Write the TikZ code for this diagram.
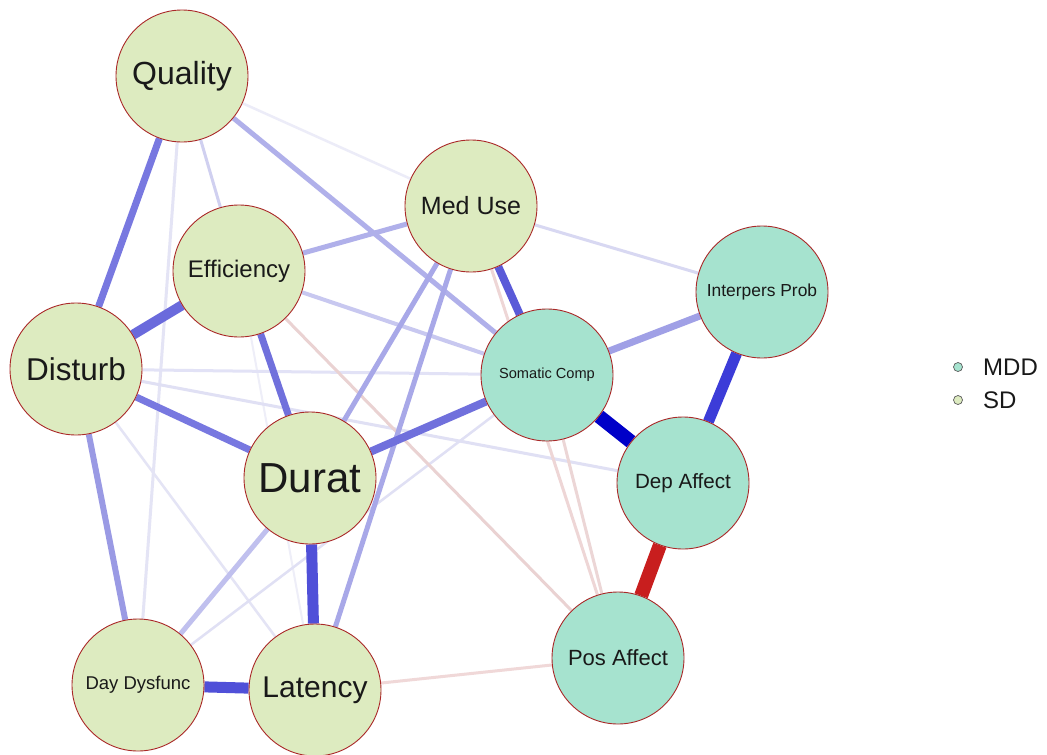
\documentclass[tikz,border=0pt]{standalone}
\usepackage{fontspec}
\setmainfont{Liberation Sans}
\usetikzlibrary{backgrounds}

\definecolor{sdfill}{RGB}{221,235,192}
\definecolor{mddfill}{RGB}{166,227,207}
\definecolor{rim}{RGB}{170,40,40}
\definecolor{labeltext}{RGB}{25,25,25}

\begin{document}
\begin{tikzpicture}[x=1pt,y=-1pt,
  vert/.style={circle, draw=rim, line width=0.9pt, minimum size=132pt,
               inner sep=0pt, text=labeltext},
  sd/.style={vert, fill=sdfill},
  mdd/.style={vert, fill=mddfill},
  fs/.style={font=\fontsize{#1}{#1}\selectfont},
  link/.style args={#1/#2}{draw={rgb,255:#1}, line width=#2pt},
  key/.style={circle, draw={rgb,255:red,90;green,90;blue,90}, line width=0.7pt,
              minimum size=9pt, inner sep=0pt},
  keytext/.style={anchor=west, inner sep=0pt, text=labeltext, fs=24}
]
\useasboundingbox (0,0) rectangle (1047,755);

% vertices: sleep items (SD) and depression items (MDD)
\node[sd, fs=32]  (qual) at (182,76)  {Quality};
\node[sd, fs=25]  (med)  at (471,206) {Med Use};
\node[sd, fs=24]  (eff)  at (239,271) {Efficiency};
\node[mdd, fs=17.4] (ipp) at (762,292) {Interpers Prob};
\node[sd, fs=31.5] (dis) at (76,369)  {Disturb};
\node[mdd, fs=14.6] (som) at (547,375) {Somatic Comp};
\node[sd, fs=42]  (dur)  at (310,478) {Durat};
\node[mdd, fs=20.6] (dep) at (683,483) {Dep Affect};
\node[sd, fs=18.5] (day) at (138,685) {Day Dysfunc};
\node[sd, fs=30]  (lat)  at (315,690) {Latency};
\node[mdd, fs=22] (pos)  at (618,658) {Pos Affect};

% edges, weakest first so the strong ones sit on top
\begin{scope}[on background layer]
  \fill[white] (0,0) rectangle (1047,755);
  % faint positive
  \draw[link={red,238;green,238;blue,248}/2]   (eff) -- (lat);
  \draw[link={red,236;green,236;blue,248}/2.5] (qual) -- (med);
  \draw[link={red,228;green,228;blue,245}/2.5] (dis) -- (lat);
  \draw[link={red,228;green,228;blue,245}/3]   (qual) -- (day);
  \draw[link={red,226;green,226;blue,246}/3]   (dis) -- (som);
  \draw[link={red,224;green,224;blue,244}/3]   (dis) -- (dep);
  \draw[link={red,224;green,224;blue,244}/2.5] (day) -- (som);
  \draw[link={red,216;green,216;blue,242}/3]   (med) -- (ipp);
  \draw[link={red,208;green,208;blue,240}/3]   (qual) -- (eff);
  % faint negative
  \draw[link={red,240;green,216;blue,216}/3]   (lat) -- (pos);
  \draw[link={red,234;green,210;blue,210}/3]   (eff) -- (pos);
  \draw[link={red,236;green,214;blue,214}/3]   (som) -- (pos);
  \draw[link={red,238;green,214;blue,214}/3]   (med) -- (pos);
  % moderate positive
  \draw[link={red,200;green,200;blue,240}/4]   (eff) -- (som);
  \draw[link={red,192;green,192;blue,238}/5]   (dur) -- (day);
  \draw[link={red,176;green,176;blue,234}/5]   (qual) -- (som);
  \draw[link={red,176;green,176;blue,234}/5]   (med) -- (eff);
  \draw[link={red,168;green,168;blue,232}/5]   (med) -- (dur);
  \draw[link={red,168;green,168;blue,232}/5]   (med) -- (lat);
  \draw[link={red,160;green,160;blue,230}/7]   (som) -- (ipp);
  \draw[link={red,154;green,154;blue,228}/6]   (dis) -- (day);
  % strong positive
  \draw[link={red,120;green,120;blue,224}/7]   (qual) -- (dis);
  \draw[link={red,120;green,120;blue,224}/7]   (dis) -- (dur);
  \draw[link={red,112;green,112;blue,220}/7]   (eff) -- (dur);
  \draw[link={red,112;green,112;blue,220}/8]   (dur) -- (som);
  \draw[link={red,106;green,106;blue,220}/10]  (dis) -- (eff);
  \draw[link={red,90;green,90;blue,216}/8]     (med) -- (som);
  \draw[link={red,80;green,80;blue,216}/11]    (dur) -- (lat);
  \draw[link={red,80;green,80;blue,216}/11]    (day) -- (lat);
  \draw[link={red,60;green,60;blue,216}/11]    (ipp) -- (dep);
  \draw[link={red,0;green,0;blue,200}/14]      (som) -- (dep);
  % strong negative
  \draw[link={red,200;green,30;blue,30}/14]    (dep) -- (pos);
\end{scope}

% legend
\node[key, fill=mddfill] (kmdd) at (958,367) {};
\node[key, fill=sdfill]  (ksd)  at (958,400) {};
\node[keytext] (tmdd) at (983,367) {MDD};
\node[keytext] (tsd)  at (983,400) {SD};
\end{tikzpicture}
\end{document}
